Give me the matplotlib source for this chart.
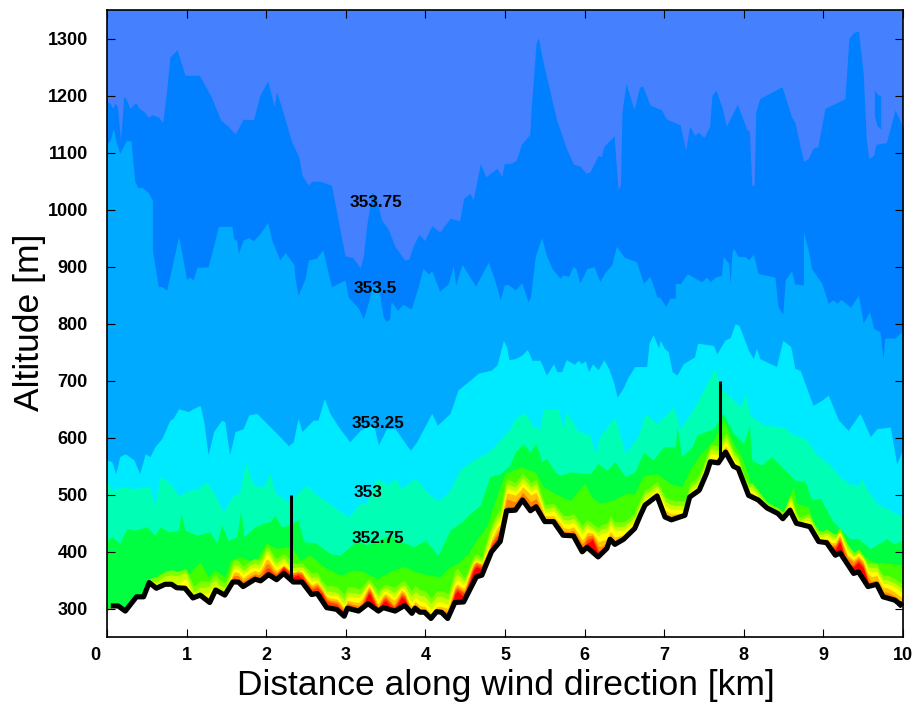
import numpy as np
import matplotlib
matplotlib.use("Agg")
import matplotlib.pyplot as plt

plt.rcParams['font.family'] = ['Liberation Sans', 'DejaVu Sans']

# Terrain
terrain_km = [0,.08,.14,.23,.37,.46,.53,.62,.73,.81,.875,.98,1.08,1.17,1.29,1.365,1.48,1.58,1.65,1.71,1.86,1.93,2.03,2.13,2.22,2.34,2.45,2.57,2.64,2.76,2.885,2.98,3.02,3.16,3.28,3.41,3.47,3.62,3.74,3.83,3.87,3.93,3.99,4.07,4.14,4.20,4.28,4.37,4.48,4.64,4.71,4.83,4.92,4.94,5.02,5.13,5.22,5.32,5.39,5.50,5.61,5.73,5.86,5.97,6.03,6.17,6.28,6.32,6.38,6.49,6.63,6.70,6.76,6.91,7.01,7.09,7.26,7.32,7.44,7.53,7.58,7.68,7.77,7.87,7.93,8.06,8.18,8.29,8.43,8.49,8.58,8.66,8.83,8.94,9.04,9.15,9.21,9.38,9.44,9.56,9.67,9.75,9.90,9.96,10]
terrain_alt = [297,305,305,296,321,321,346,336,343,343,337,336,319,324,311,333,324,347,347,339,352,349,360,351,362,347,347,325,327,302,299,287,301,296,309,296,302,296,306,292,301,294,294,283,295,294,283,311,312,356,359,400,415,418,472,473,491,472,479,453,453,429,428,400,408,391,406,422,413,422,441,464,482,498,461,456,464,496,508,537,558,556,575,550,546,499,491,477,467,458,473,450,444,418,416,394,398,362,365,339,343,321,315,308,306]

# Upper isotherm boundaries
b1_km = [0,.04,.07,.10,.13,.17,.21,.23,.29,.36,.41,.46,.52,.56,.645,.70,.75,.79,.88,.98,1.16,1.31,1.43,1.52,1.61,1.71,1.84,1.92,2.02,2.10,2.13,2.19,2.32,2.41,2.45,2.53,2.57,2.68,2.82,2.99,3.09,3.18,3.22,3.26,3.33,3.39,3.45,3.53,3.62,3.74,3.79,3.85,3.92,3.99,4.08,4.18,4.31,4.43,4.48,4.56,4.60,4.69,4.76,4.90,4.96,4.99,5.08,5.14,5.21,5.31,5.33,5.39,5.42,5.46,5.54,5.65,5.77,5.86,5.94,6.02,6.07,6.17,6.21,6.24,6.37,6.42,6.45,6.47,6.52,6.62,6.69,6.73,6.82,6.97,7.02,7.20,7.27,7.32,7.38,7.43,7.50,7.57,7.60,7.65,7.73,7.78,7.92,7.97,8.04,8.07,8.10,8.13,8.15,8.20,8.48,8.60,8.64,8.75,8.81,8.87,8.93,9.02,9.27,9.32,9.38,9.44,9.50,9.54,9.57,9.63,9.66,9.79,9.90,9.98,10]
b1_alt = [1189,1187,1178,1187,1181,1122,1198,1197,1178,1188,1177,1173,1162,1167,1163,1153,1210,1268,1281,1236,1236,1198,1157,1147,1133,1159,1158,1201,1226,1181,1207,1181,1119,1093,1061,1043,1050,1050,1043,919,916,898,918,970,1032,1017,982,967,935,912,913,938,957,946,972,961,985,981,1020,1029,1017,1081,1058,1073,1058,1081,1082,1087,1116,1132,1181,1292,1302,1271,1222,1157,1108,1080,1077,1064,1067,1096,1093,1111,1130,1036,1044,1172,1222,1176,1215,1217,1184,1175,1160,1149,1105,1147,1131,1136,1127,1146,1201,1210,1178,1147,1185,1166,1140,1138,1043,1043,1172,1195,1216,1163,1154,1085,1090,1108,1111,1178,1195,1301,1311,1314,1239,1122,1090,1095,1115,1118,1175,1151,1145]
island_km = [9.64,9.67,9.72]
island_top = [1211,1204,1199]
island_bot = [1166,1149,1141]

b2_km = [0,.04,.08,.11,.16,.21,.24,.30,.35,.39,.44,.52,.57,.57,.645,.68,.75,.90,1.00,1.04,1.08,1.13,1.27,1.36,1.40,1.57,1.59,1.63,1.65,1.71,1.78,1.84,1.92,2.02,2.07,2.17,2.24,2.35,2.36,2.40,2.49,2.53,2.63,2.71,2.76,2.82,2.99,3.03,3.16,3.22,3.28,3.33,3.41,3.47,3.51,3.55,3.57,3.65,3.72,3.82,3.91,3.97,4.04,4.08,4.18,4.29,4.35,4.38,4.46,4.52,4.63,4.79,4.87,4.94,4.99,5.04,5.13,5.21,5.29,5.32,5.38,5.46,5.52,5.59,5.69,5.73,5.80,5.85,5.89,5.94,6.03,6.12,6.19,6.26,6.34,6.40,6.49,6.53,6.65,6.74,6.82,6.91,6.95,7.02,7.07,7.14,7.14,7.20,7.29,7.39,7.47,7.53,7.58,7.64,7.72,7.74,7.81,7.83,7.85,7.87,7.93,8.02,8.06,8.12,8.18,8.29,8.39,8.43,8.49,8.52,8.60,8.64,8.75,8.75,8.81,8.85,8.98,9.06,9.12,9.17,9.22,9.34,9.44,9.50,9.58,9.63,9.71,9.75,9.77,9.90,9.98,10]
b2_alt = [1116,1122,1143,1122,1099,1113,1121,1121,1049,1039,1039,1030,1017,929,865,866,859,953,878,882,877,899,900,948,971,971,950,946,923,947,951,946,958,978,947,912,925,903,882,850,880,912,915,930,900,865,877,847,827,809,836,865,865,812,804,809,839,824,834,826,865,897,887,893,857,871,902,868,904,891,866,908,877,842,868,869,859,872,839,847,918,951,920,897,880,886,883,900,897,872,897,900,874,891,903,936,918,915,909,871,883,847,846,830,845,845,871,870,888,880,874,882,874,882,885,918,906,871,924,933,918,918,912,922,888,885,882,830,817,877,893,870,868,961,929,897,871,836,842,836,843,829,850,802,821,792,786,739,775,775,786,790]

b3_km = [0,.06,.11,.16,.23,.34,.41,.48,.54,.60,.69,.79,.83,.90,1.02,1.08,1.17,1.22,1.27,1.34,1.44,1.48,1.54,1.61,1.71,1.78,1.88,2.01,2.13,2.28,2.34,2.40,2.45,2.59,2.65,2.73,2.80,2.91,3.05,3.18,3.26,3.35,3.41,3.51,3.62,3.81,3.89,4.08,4.15,4.31,4.41,4.56,4.66,4.83,4.90,4.98,5.02,5.05,5.13,5.21,5.28,5.34,5.44,5.52,5.61,5.65,5.71,5.77,5.87,5.92,5.96,6.01,6.05,6.10,6.17,6.24,6.30,6.36,6.41,6.49,6.54,6.63,6.78,6.81,6.86,6.93,6.95,7.0,7.05,7.10,7.16,7.24,7.38,7.42,7.47,7.62,7.66,7.76,7.83,7.89,7.94,8.06,8.12,8.16,8.20,8.41,8.49,8.59,8.64,8.71,8.79,8.87,8.98,9.06,9.19,9.31,9.46,9.59,9.67,9.84,9.92,9.99,10]
b3_alt = [561,558,537,567,572,561,537,572,567,584,599,631,634,651,646,651,657,625,570,611,631,628,570,611,616,640,643,625,608,586,593,634,611,631,631,669,643,619,593,613,619,622,587,616,616,578,593,643,622,643,684,701,713,719,728,771,759,737,739,745,755,736,736,710,730,716,716,737,729,736,730,735,716,730,719,737,722,699,671,689,705,725,725,766,781,757,771,757,751,716,710,730,742,766,765,762,747,771,776,800,797,753,739,757,739,725,771,760,722,718,687,657,666,675,631,613,643,602,616,619,554,578,580]

b4_km = [0,.06,.20,.33,.54,.60,.67,.79,.90,1.04,1.15,1.25,1.36,1.46,1.57,1.67,1.74,1.84,1.96,2.05,2.11,2.26,2.42,2.51,2.59,2.76,3.03,3.18,3.26,3.39,3.53,3.62,3.70,3.87,4.02,4.16,4.31,4.43,4.60,4.79,4.94,5.06,5.13,5.25,5.36,5.44,5.48,5.67,5.73,5.77,5.92,6.07,6.13,6.19,6.38,6.51,6.68,6.76,6.91,7.12,7.20,7.37,7.64,7.70,7.91,7.96,8.02,8.08,8.25,8.50,8.62,8.77,8.92,9.06,9.21,9.31,9.44,9.48,9.54,9.67,9.84,9.99,10]
b4_alt = [526,508,514,511,514,479,532,520,499,508,511,523,499,470,496,505,558,517,514,537,505,488,505,517,505,488,461,485,485,529,517,529,511,529,505,488,508,543,561,575,596,616,634,644,619,616,649,651,616,646,611,605,572,602,637,572,605,643,625,654,616,651,722,689,660,654,678,640,622,619,605,599,570,555,532,520,517,529,511,485,473,461,460]

b5_km = [0,.06,.16,.25,.35,.50,.60,.67,.77,.90,.93,.98,1.13,1.29,1.38,1.44,1.52,1.63,1.68,1.72,1.86,1.96,2.05,2.11,2.19,2.30,2.40,2.47,2.63,2.80,2.93,3.05,3.14,3.26,3.39,3.56,3.70,3.85,4.0,4.16,4.31,4.46,4.56,4.69,4.81,4.94,5.06,5.13,5.23,5.31,5.39,5.46,5.52,5.63,5.69,5.82,6.07,6.17,6.28,6.38,6.51,6.63,6.74,6.86,6.99,7.14,7.16,7.22,7.35,7.41,7.62,7.69,7.74,7.87,8.0,8.07,8.10,8.22,8.35,8.50,8.64,8.77,8.85,8.96,9.12,9.23,9.33,9.44,9.59,9.79,9.88,9.99,10]
b5_alt = [420,426,415,441,438,444,429,444,435,438,467,438,429,435,415,447,420,426,473,426,444,450,453,464,444,447,456,418,415,397,394,409,420,412,420,429,418,409,420,394,438,453,467,482,532,537,552,575,590,575,590,558,564,540,534,540,537,555,543,558,532,540,575,561,584,584,619,567,584,605,616,631,643,608,590,622,561,552,567,546,526,523,491,494,453,438,423,423,405,423,414,420,420]

b6_km = [0,.45,.46,.54,.67,.83,.98,1.17,1.27,1.36,1.48,1.55,1.67,1.86,2.0,2.13,2.32,2.42,2.55,2.72,2.93,3.09,3.22,3.39,3.60,3.74,3.87,4.06,4.18,4.31,4.41,4.54,4.64,4.77,4.85,4.94,5.0,5.19,5.38,5.48,5.63,5.82,6.0,6.09,6.19,6.36,6.51,6.63,6.74,6.91,7.07,7.22,7.32,7.45,7.62,7.75,7.87,7.97,8.06,8.12,8.25,8.39,8.50,8.62,8.66,8.81,8.89,9.06,9.19,9.23,9.31,9.44,9.63,9.79,9.99,10]
b6_alt = [280,280,321,350,362,368,356,382,356,368,356,385,391,382,415,406,409,385,394,374,359,368,365,353,368,374,365,359,356,374,380,397,420,445,478,514,537,549,540,514,502,490,520,496,485,491,502,502,534,537,520,514,543,570,596,631,590,567,534,496,490,479,467,514,485,479,441,432,415,423,397,397,382,380,377,377]

# Near-ground bands: height above the terrain, every 0.1 km
grid_km = np.arange(0, 101) / 10
h7 = [0,0,0,0,0,2,18,22,25,30, 35,20,28,38,22,22,40,35,38,35, 52,38,35,35,32,35,38,35,40,40, 38,40,38,44,36,42,42,45,40,40, 38,35,38,45,60,40,46,32,45,55, 58,50,46,50,48,30,32,35,35,42, 48,50,52,42,38,30,28,30,25,25, 35,35,28,22,25,30,30,30,35,25, 14,25,15,10,10,12,30,12,22,18, 20,30,44,35,38,42,40,35,40,38,38]
h8 = [0,0,0,0,0,0,10,14,16,22, 28,10,16,30,12,14,30,28,30,27, 45,30,28,25,26,28,30,28,30,30, 28,30,30,38,28,36,32,38,30,30, 28,26,28,35,50,34,40,26,38,46, 48,42,38,42,40,22,25,28,27,34, 40,42,44,34,30,22,20,22,18,18, 28,26,20,15,17,22,22,22,28,18, 9,18,9,6,6,8,24,7,16,12, 14,24,38,28,32,38,32,28,32,30,30]
h9 = [0,0,0,0,0,0,0,4,4,8, 18,2,4,20,3,4,24,22,24,20, 38,24,22,20,20,22,24,22,24,24, 20,22,24,36,20,30,26,34,20,20, 18,16,18,26,40,28,36,20,24,38, 40,35,30,35,32,16,18,22,20,27, 32,38,36,26,23,15,14,15,10,12, 20,18,13,8,10,14,14,15,20,10, 5,12,5,3,3,5,17,4,10,8, 9,18,36,22,30,36,24,22,25,23,23]
h10 = [0,0,0,0,0,0,0,0,0,0, 0,0,0,8,0,0,18,15,17,14, 30,17,15,15,20,16,18,22,18,18, 14,14,16,32,13,26,18,30,13,12, 10,8,10,20,32,22,34,16,18,30, 32,28,22,28,25,10,10,14,12,18, 22,34,24,14,12,7,6,7,4,6, 12,10,6,3,4,6,6,7,12,4, 0,7,0,0,0,0,10,0,5,4, 4,12,32,16,26,32,16,15,18,14,14]
h11 = [0,0,0,0,0,0,0,0,0,0, 0,0,0,0,0,0,12,10,11,9, 22,12,12,14,18,13,14,18,14,14, 10,9,10,28,8,22,10,26,8,7, 5,4,5,14,28,17,30,20,14,22, 22,16,13,16,14,5,5,8,7,12, 15,30,14,7,6,0,0,0,0,0, 7,4,0,0,0,0,0,0,0,0, 0,4,0,0,0,0,5,0,0,0, 0,8,28,12,22,28,8,7,10,7,7]
h12 = [0,0,0,0,0,0,0,0,0,0, 0,0,0,0,0,0,8,0,7,0, 14,8,13,11,15,10,10,15,11,10, 7,6,6,24,5,18,7,22,5,4, 0,0,0,10,24,14,26,16,11,16, 8,6,5,6,6,0,0,0,0,6, 8,26,6,0,0,0,0,0,0,0, 0,0,0,0,0,0,0,0,0,0, 0,0,0,0,0,0,0,0,0,0, 0,5,24,0,18,24,0,0,0,0,0]
h13 = [0,0,0,0,0,0,0,0,0,0, 0,0,0,0,0,0,0,0,0,0, 0,0,10,7,12,0,0,12,0,0, 0,0,0,20,0,14,0,18,0,0, 0,0,0,4,20,6,22,12,6,10, 0,0,0,0,0,0,0,0,0,0, 0,22,0,0,0,0,0,0,0,0, 0,0,0,0,0,0,0,0,0,0, 0,0,0,0,0,0,0,0,0,0, 0,0,20,0,14,20,0,0,0,0,0]

band_colors = ['#0080ff', '#00aaff', '#00eaff', '#00ffb4', '#00ff40',
               '#40ff00', '#80ff00', '#c8ff00', '#ffff00', '#ffc000',
               '#ff8000', '#ff4000', '#ff0000']
top_color = '#4580ff'

labels = ['353.75', '353.5', '353.25', '353', '352.75']
label_km = [3.38, 3.37, 3.40, 3.28, 3.40]
label_alt = [1013, 862, 625, 504, 423]

tower_km = [2.31, 7.70]
tower_top = [500, 700]

fig = plt.figure(figsize=(9.16, 7.03), dpi=100)
ax = fig.add_axes([107/916, 1-637.3/703, (903-107)/916, (637.3-10.3)/703])
ax.set_facecolor(top_color)
ax.set_xlim(0, 10)
ax.set_ylim(250, 1350)

upper = [(b1_km, b1_alt), (b2_km, b2_alt), (b3_km, b3_alt), (b4_km, b4_alt),
         (b5_km, b5_alt), (b6_km, b6_alt)]
for (k, a), c in zip(upper, band_colors[:6]):
    ax.fill_between(k, a, 250, color=c, lw=0)
ax.fill_between(island_km, island_bot, island_top, color=band_colors[0], lw=0)

xfine = np.union1d(terrain_km, grid_km)
ground = np.interp(xfine, terrain_km, terrain_alt)
for h, c in zip([h7, h8, h9, h10, h11, h12, h13], band_colors[6:]):
    ax.fill_between(xfine, ground + np.interp(xfine, grid_km, h), 250, color=c, lw=0)

ax.fill_between(terrain_km, terrain_alt, 250, color='white', lw=0)
ax.plot(terrain_km[1:-1], terrain_alt[1:-1], color='black', lw=3.7, solid_joinstyle='round')
ax.plot(terrain_km[-2], terrain_alt[-2], 'kD', ms=3)
for k, t in zip(tower_km, tower_top):
    ax.plot([k, k], [np.interp(k, terrain_km, terrain_alt), t], color='black', lw=2.2, solid_capstyle='butt')

for s, k, a in zip(labels, label_km, label_alt):
    ax.text(k, a, s, fontsize=12.3, fontweight='bold', ha='center', va='center', color='black')

ax.set_xticks(range(11))
ax.set_xticklabels([''] + [str(i) for i in range(1, 11)])
ax.set_yticks(range(300, 1301, 100))
ax.tick_params(direction='in', length=5.5, width=0.8, top=True, right=True, labelsize=13)
ax.tick_params(axis='x', pad=7)
ax.tick_params(axis='y', pad=13.7)
for t in ax.get_xticklabels() + ax.get_yticklabels():
    t.set_fontweight('bold')
ax.annotate('0', xy=(0, 0), xycoords='axes fraction', xytext=(-8.6, -7), textcoords='offset points',
            ha='center', va='top', fontsize=13, fontweight='bold')
for sp in ax.spines.values():
    sp.set_linewidth(1.2)
    sp.set_zorder(5)

fig.text(506/916, 1-686/703, 'Distance along wind direction [km]', fontsize=25.5, ha='center', va='center')
fig.text(30/916, 1-322/703, 'Altitude [m]', fontsize=25.5, rotation=90, ha='center', va='center')

fig.savefig('out.png', dpi=100)
